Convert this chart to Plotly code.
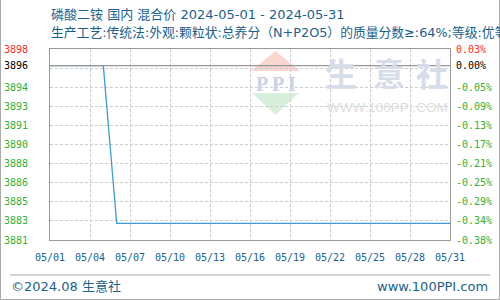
import plotly.graph_objects as go
import pandas as pd

# ---------------- data ----------------
dates = [d.strftime("%Y-%m-%d") for d in pd.date_range("2024-05-01", "2024-05-31", freq="D")]
prices = [3896.2, 3896.2, 3896.2, 3896.2, 3896.2,
          3882.9, 3882.9, 3882.9, 3882.9, 3882.9, 3882.9, 3882.9, 3882.9, 3882.9,
          3882.9, 3882.9, 3882.9, 3882.9, 3882.9, 3882.9, 3882.9, 3882.9, 3882.9,
          3882.9, 3882.9, 3882.9, 3882.9, 3882.9, 3882.9, 3882.9, 3882.9]
x_tick_labels = ["05/01", "05/04", "05/07", "05/10", "05/13", "05/16",
                 "05/19", "05/22", "05/25", "05/28", "05/31"]
left_tick_labels = ["3881", "3883", "3885", "3886", "3888", "3890",
                    "3891", "3893", "3894", "3896", "3898"]
right_tick_labels = ["-0.38%", "-0.34%", "-0.29%", "-0.25%", "-0.21%", "-0.17%",
                     "-0.13%", "-0.09%", "-0.05%", "0.00%", "0.03%"]
y_low, y_high = 3881.5, 3897.6

title1 = "磷酸二铵 国内 混合价 2024-05-01 - 2024-05-31"
title2 = "生产工艺:传统法:外观:颗粒状:总养分（N+P2O5）的质量分数≥:64%;等级:优等品"
footer_left = "©2024.08 生意社"
footer_right = "www.100PPI.com"

# ---------------- styles ----------------
W, H = 500, 300
ML, MR, MT, MB = 50, 50, 49, 60
PW, PH = W - ML - MR, H - MT - MB
BLUE_TXT = "#1a5f8e"
RED, GREEN, BLACK = "#ff2a2a", "#33b033", "#000000"
FONT = "DejaVu Sans, Noto Sans CJK SC, sans-serif"
MONO = "DejaVu Sans Mono, monospace"


def px(x):
    return (x - ML) / PW


def py(y):
    return (H - MB - y) / PH


n = len(left_tick_labels)
grid_vals = [y_low + k * (y_high - y_low) / (n - 1) for k in range(n)]
label_pos = list(grid_vals)
label_pos[n - 2] = prices[0]
label_colors = [GREEN] * (n - 2) + [BLACK, RED]
left_text = [f'<span style="color:{c}">{t}</span>' for t, c in zip(left_tick_labels, label_colors)]
right_text = [f'<span style="color:{c}">{t}</span>' for t, c in zip(right_tick_labels, label_colors)]

fig = go.Figure()
# reference line at the starting price
fig.add_trace(go.Scatter(x=[dates[0], dates[-1]], y=[prices[0], prices[0]], mode="lines",
                         line=dict(color="#999999", width=1.2), yaxis="y3", hoverinfo="skip"))
fig.add_trace(go.Scatter(x=[dates[0], dates[-1]], y=[prices[0], prices[0]], mode="lines",
                         line=dict(color="rgba(0,0,0,0)", width=0), yaxis="y2", hoverinfo="skip"))
fig.add_trace(go.Scatter(x=dates, y=prices, mode="lines",
                         line=dict(color="#3d9bd6", width=1.3), hoverinfo="skip"))

axis_common = dict(range=[y_low, y_high], zeroline=False, fixedrange=True, automargin=False)
fig.update_layout(
    width=W, height=H,
    margin=dict(l=ML, r=MR, t=MT, b=MB, pad=0, autoexpand=False),
    paper_bgcolor="white", plot_bgcolor="white",
    showlegend=False,
    xaxis=dict(type="date", range=[dates[0], dates[-1]], automargin=False,
               tickvals=dates[::3], ticktext=x_tick_labels,
               showgrid=True, gridcolor="#cccccc", griddash="3px,2px", gridwidth=1,
               showline=True, linecolor="#999999", linewidth=1, mirror=True,
               ticks="outside", ticklen=8, tickcolor="rgba(0,0,0,0)",
               tickfont=dict(family=MONO, size=10, color=BLUE_TXT), zeroline=False),
    yaxis=dict(**axis_common, tickvals=label_pos, ticktext=left_text,
               showgrid=False, showline=True, linecolor="#999999", linewidth=1, mirror=True,
               ticks="outside", ticklen=19, tickcolor="rgba(0,0,0,0)",
               tickfont=dict(family=MONO, size=10)),
    yaxis2=dict(**axis_common, overlaying="y", side="right", tickvals=label_pos,
                ticktext=right_text, showgrid=False, showline=False,
                ticks="outside", ticklen=3, tickcolor="rgba(0,0,0,0)",
                tickfont=dict(family=MONO, size=10)),
    yaxis3=dict(**axis_common, overlaying="y", side="left", tickvals=grid_vals[1:n - 1],
                showticklabels=False, showgrid=True, gridcolor="#cccccc",
                griddash="3px,2px", gridwidth=1, showline=False, ticks=""),
)

shapes = [
    # watermark logo triangles
    dict(type="path", xref="paper", yref="paper",
         path=f"M {px(251)} {py(71)} L {px(275.5)} {py(51)} L {px(300)} {py(71)} Z",
         fillcolor="#f9d6d0", line=dict(width=0), layer="below"),
    dict(type="path", xref="paper", yref="paper",
         path=f"M {px(252)} {py(93)} L {px(275.5)} {py(115)} L {px(299)} {py(93)} Z",
         fillcolor="#d8efdb", line=dict(width=0), layer="below"),
    # footer separator
    dict(type="line", xref="paper", yref="paper", x0=px(10), x1=px(490), y0=py(275), y1=py(275),
         line=dict(color="#aaaaaa", width=1)),
    # outer frame (left, right, bottom)
    dict(type="line", xref="paper", yref="paper", x0=px(0.5), x1=px(0.5), y0=py(0), y1=py(299.5),
         line=dict(color="#aaaaaa", width=1)),
    dict(type="line", xref="paper", yref="paper", x0=px(499.5), x1=px(499.5), y0=py(0), y1=py(299.5),
         line=dict(color="#aaaaaa", width=1)),
    dict(type="line", xref="paper", yref="paper", x0=px(0), x1=px(500), y0=py(299.5), y1=py(299.5),
         line=dict(color="#aaaaaa", width=1)),
]
fig.update_layout(shapes=shapes)

ann = []
def add_text(text, x, y, size, color, family=FONT, xanchor="left", bold=False):
    ann.append(dict(text=f"<b>{text}</b>" if bold else text, x=px(x), y=py(y),
                    xref="paper", yref="paper", xanchor=xanchor, yanchor="middle",
                    showarrow=False, font=dict(family=family, size=size, color=color)))

# watermark texts
for ch, cx in zip("PPI", [262, 278, 292]):
    add_text(ch, cx, 84, 20, "#c9d2e8", family="Liberation Serif, serif", xanchor="center", bold=True)
for ch, cx in zip("生意社", [341, 389, 432]):
    add_text(ch, cx, 72, 32, "#d6dce9", family="Noto Sans CJK SC", xanchor="center", bold=True)
add_text("WWW.100PPI.COM", 387, 107, 13.5, "#dddddd", family="Liberation Sans, Arial", xanchor="center")

# titles and footer
add_text(title1, 49, 15, 13, BLUE_TXT)
add_text(title2, 49, 33, 12.8, BLUE_TXT)
add_text(footer_left, 9, 286, 13, BLUE_TXT)
add_text(footer_right, 490, 286, 13, BLUE_TXT, xanchor="right")
fig.update_layout(annotations=ann)

fig.write_html("out.html", config={"displayModeBar": False, "staticPlot": True})
